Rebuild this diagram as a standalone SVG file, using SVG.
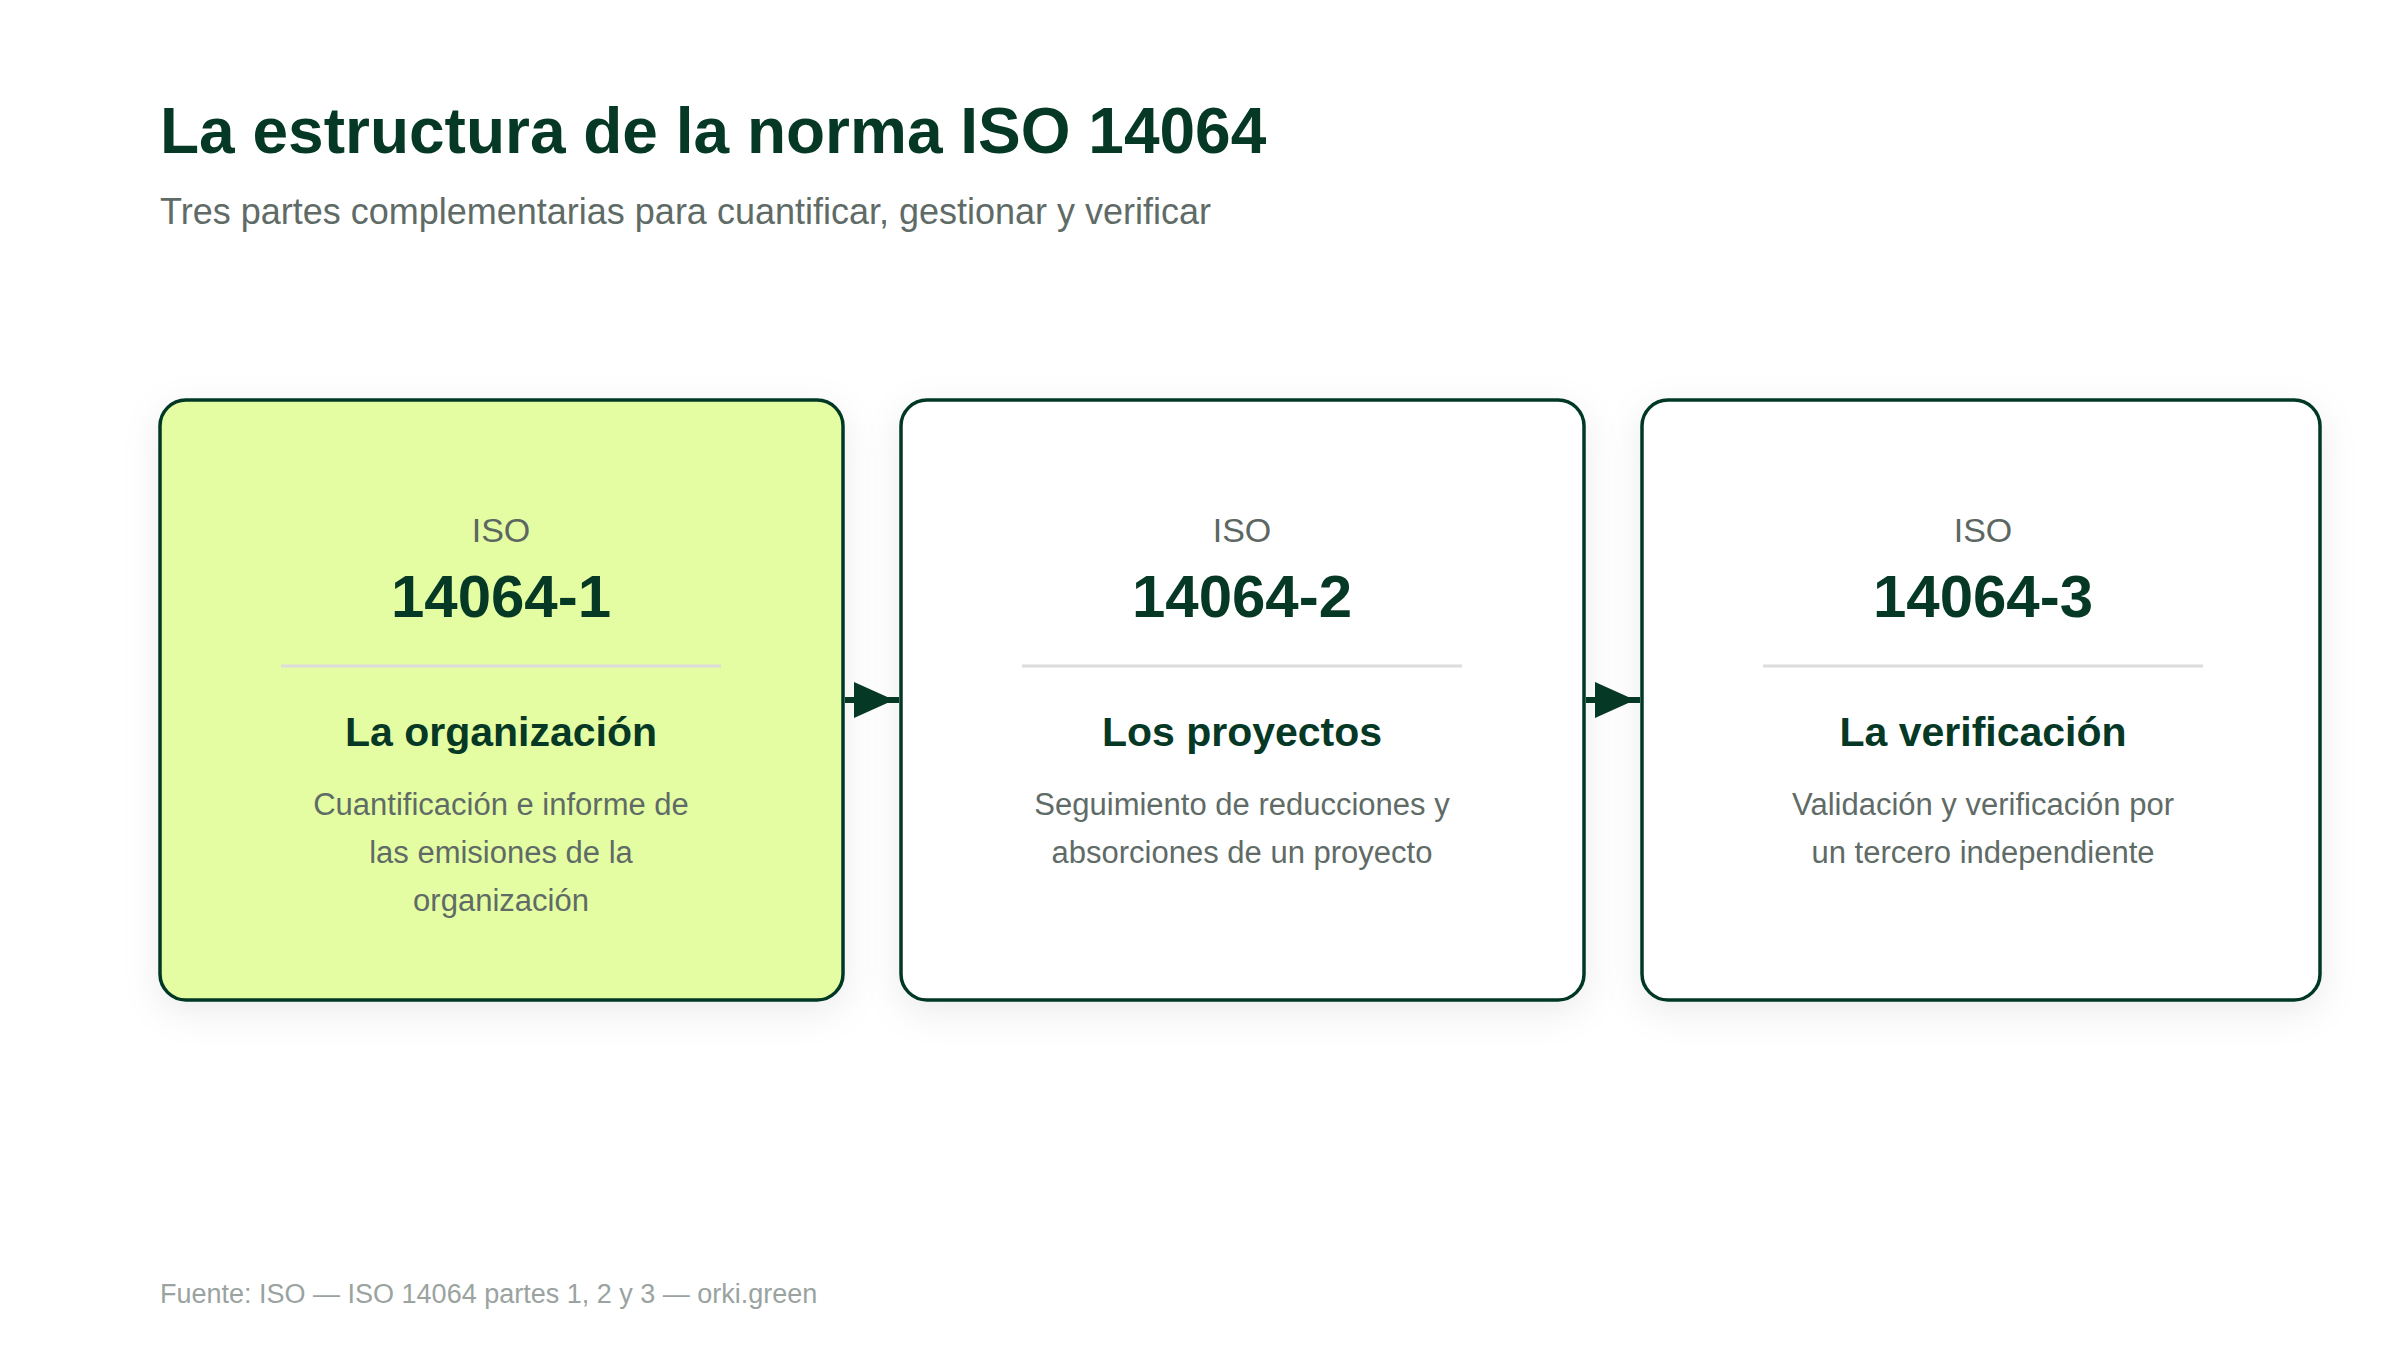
<svg xmlns="http://www.w3.org/2000/svg" width="2400" height="1350" viewBox="0 0 2400 1350">
<style>
.t{font-family:"Liberation Sans",Arial,sans-serif}
.card{stroke:#063826;stroke-width:3.5}
.iso{font-size:34px;fill:#5c6762;text-anchor:middle}
.num{font-size:60px;font-weight:bold;fill:#063826;text-anchor:middle}
.h{font-size:41px;font-weight:bold;fill:#063826;text-anchor:middle}
.d{font-size:31px;fill:#5f6b66;text-anchor:middle}
.div{stroke:#dcdcdc;stroke-width:3}
.con{stroke:#063826;stroke-width:6;fill:none}
</style>
<defs>
<filter id="sh" x="-20%" y="-20%" width="140%" height="140%">
<feDropShadow dx="0" dy="10" stdDeviation="18" flood-color="#000" flood-opacity="0.08"/>
</filter>
</defs>
<rect width="2400" height="1350" fill="#fff"/>
<text class="t" x="160" y="153" font-size="64" font-weight="bold" fill="#063826">La estructura de la norma ISO 14064</text>
<text class="t" x="160" y="224" font-size="36" fill="#5f6b66">Tres partes complementarias para cuantificar, gestionar y verificar</text>
<g id="node1">
<rect class="card" x="160" y="400" width="683" height="600" rx="26" fill="#e5fda2" filter="url(#sh)"/>
<text class="t iso" x="501" y="542">ISO</text>
<text class="t num" x="501" y="617">14064-1</text>
<line class="div" x1="281" y1="666" x2="721" y2="666"/>
<text class="t h" x="501" y="746">La organización</text>
<text class="t d" x="501" y="815">Cuantificación e informe de</text>
<text class="t d" x="501" y="863">las emisiones de la</text>
<text class="t d" x="501" y="911">organización</text>
</g>
<g id="node2">
<rect class="card" x="901" y="400" width="683" height="600" rx="26" fill="#fff" filter="url(#sh)"/>
<text class="t iso" x="1242" y="542">ISO</text>
<text class="t num" x="1242" y="617">14064-2</text>
<line class="div" x1="1022" y1="666" x2="1462" y2="666"/>
<text class="t h" x="1242" y="746">Los proyectos</text>
<text class="t d" x="1242" y="815">Seguimiento de reducciones y</text>
<text class="t d" x="1242" y="863">absorciones de un proyecto</text>
</g>
<g id="node3">
<rect class="card" x="1642" y="400" width="678" height="600" rx="26" fill="#fff" filter="url(#sh)"/>
<text class="t iso" x="1983" y="542">ISO</text>
<text class="t num" x="1983" y="617">14064-3</text>
<line class="div" x1="1763" y1="666" x2="2203" y2="666"/>
<text class="t h" x="1983" y="746">La verificación</text>
<text class="t d" x="1983" y="815">Validación y verificación por</text>
<text class="t d" x="1983" y="863">un tercero independiente</text>
</g>
<g id="connectors">
<line class="con" x1="845" y1="700" x2="899" y2="700"/>
<polygon points="854,682 894,700 854,718" fill="#063826"/>
<line class="con" x1="1586" y1="700" x2="1640" y2="700"/>
<polygon points="1595,682 1635,700 1595,718" fill="#063826"/>
</g>
<text class="t" x="160" y="1303" font-size="27" fill="#9aa39f">Fuente: ISO — ISO 14064 partes 1, 2 y 3 — orki.green</text>
</svg>
